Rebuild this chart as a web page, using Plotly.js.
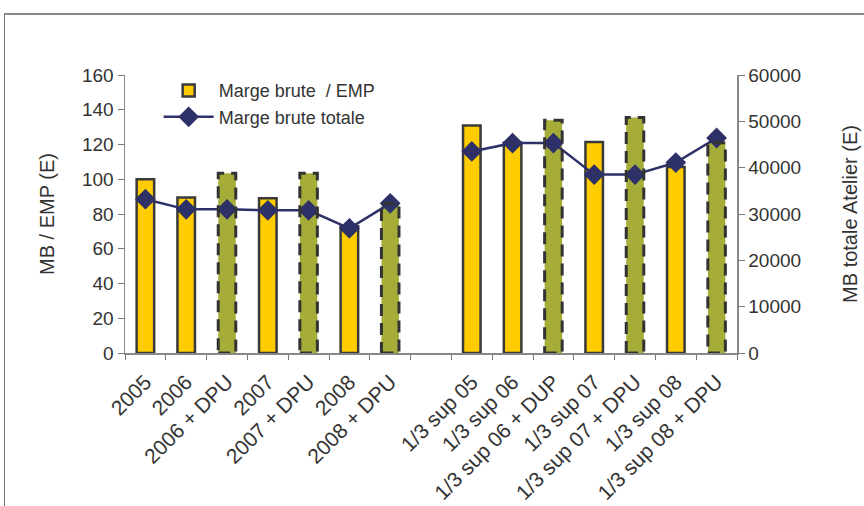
<!DOCTYPE html>
<html><head><meta charset="utf-8">
<script src="https://cdn.plot.ly/plotly-3.0.1.min.js"></script>
<style>
html,body{margin:0;padding:0;background:#fff;overflow:hidden;}
#frame{position:absolute;left:4px;top:13px;width:900px;height:600px;border-top:2px solid #888;border-left:1px solid #777;}
#chart{position:absolute;left:0;top:0;width:864px;height:506px;}
</style></head>
<body>
<div id="frame"></div>
<div id="chart"></div>
<script>
// Category order on the x axis (blank placeholder = gap)
const categories = ['2005','2006','2006 + DPU','2007','2007 + DPU','2008','2008 + DPU',' ',
  '1/3 sup 05','1/3 sup 06','1/3 sup 06 + DUP','1/3 sup 07','1/3 sup 07 + DPU','1/3 sup 08','1/3 sup 08 + DPU'];
// Marge brute / EMP (left axis) - plain years
const yellowCats = ['2005','2006','2007','2008','1/3 sup 05','1/3 sup 06','1/3 sup 07','1/3 sup 08'];
const yellowVals = [100, 89.5, 89, 73, 131, 121, 121.5, 107];
// Marge brute / EMP (left axis) - with DPU
const greenCats = ['2006 + DPU','2007 + DPU','2008 + DPU','1/3 sup 06 + DUP','1/3 sup 07 + DPU','1/3 sup 08 + DPU'];
const greenVals = [103.5, 103.5, 86, 134, 135.5, 121];
// Marge brute totale (right axis)
const lineCats = categories;
const lineVals = [33200, 31000, 31000, 30800, 30800, 26900, 32300, null,
  43500, 45300, 45300, 38500, 38500, 41100, 46400];

const barW = 0.43;
const fontFam = 'Liberation Sans, Arial, sans-serif';

const traces = [
  {type:'bar', name:'Marge brute  / EMP', x:yellowCats, y:yellowVals, width:barW,
   marker:{color:'#FFCC00', line:{color:'#3a3a3a', width:2.5}}},
  {type:'bar', name:'Marge brute / EMP (DPU)', x:greenCats, y:greenVals, width:barW, showlegend:false,
   marker:{color:'#A5AD38', line:{width:0}}},
  {type:'scatter', mode:'lines+markers', name:'Marge brute totale', x:lineCats, y:lineVals, yaxis:'y2',
   line:{color:'#2E3168', width:2.5}, marker:{symbol:'diamond', size:16, color:'#2E3168'}, connectgaps:false}
];

const shapes = greenCats.map((c,i)=>{
  const idx = categories.indexOf(c);
  return {type:'rect', xref:'x', yref:'y', x0:idx-barW/2, x1:idx+barW/2, y0:0, y1:greenVals[i],
    line:{color:'#333', width:3, dash:'12px,7px'}, fillcolor:'rgba(0,0,0,0)', layer:'above'};
});

const tickFont = {family:fontFam, size:19, color:'#333'};
const layout = {
  width:864, height:506,
  margin:{l:125, r:127, t:75, b:153},
  paper_bgcolor:'rgba(0,0,0,0)', plot_bgcolor:'rgba(0,0,0,0)',
  barmode:'overlay',
  showlegend:true,
  legend:{x:0.055, y:1.01, xanchor:'left', yanchor:'top', bgcolor:'rgba(0,0,0,0)',
    font:{family:fontFam, size:18, color:'#333'}, tracegroupgap:2, itemwidth:50},
  xaxis:{type:'category', categoryorder:'array', categoryarray:categories,
    tickson:'boundaries', ticks:'outside', ticklen:5, tickcolor:'#777',
    showline:true, linecolor:'#888', linewidth:1.5, showgrid:false, zeroline:false,
    tickangle:-45, ticklabelstandoff:7, tickfont:{family:fontFam, size:21, color:'#333'}, range:[-0.5,14.5]},
  yaxis:{range:[0,160], dtick:20, ticks:'outside', ticklen:6, tickcolor:'#777',
    showline:true, linecolor:'#888', linewidth:1.5, showgrid:false, zeroline:false,
    tickfont:tickFont,
    title:{text:'MB / EMP (E)', font:{family:fontFam, size:20, color:'#333'}, standoff:22}},
  yaxis2:{overlaying:'y', side:'right', range:[0,60000], dtick:10000, tickformat:'d', ticks:'outside', ticklen:6,
    tickcolor:'#777', showline:true, linecolor:'#888', linewidth:1.5, showgrid:false, zeroline:false,
    tickfont:tickFont,
    title:{text:'MB totale Atelier (E)', font:{family:fontFam, size:20, color:'#333'}, standoff:43}},
  shapes:shapes
};
Plotly.newPlot('chart', traces, layout, {displayModeBar:false, staticPlot:true});
</script>
</body></html>
